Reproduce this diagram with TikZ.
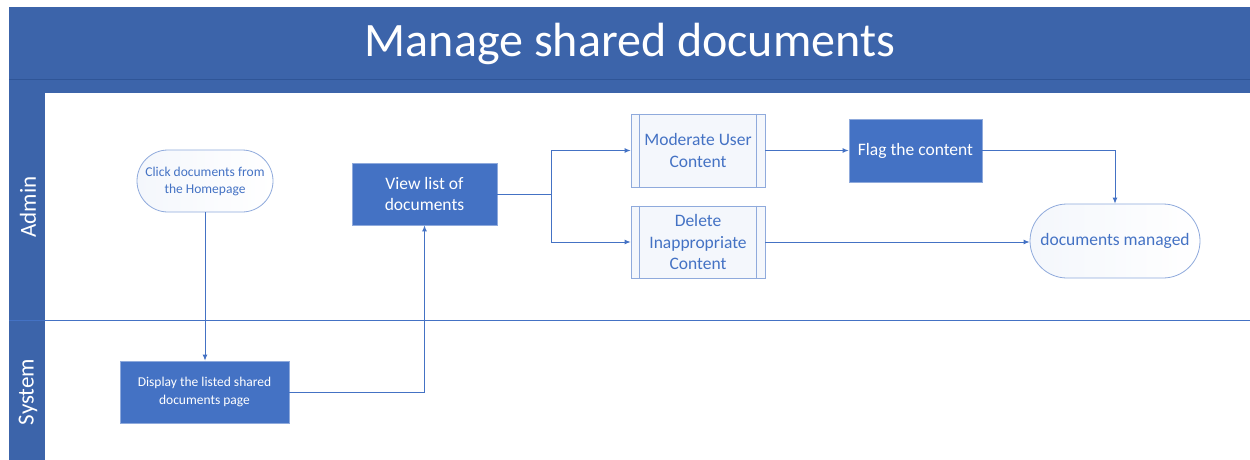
\documentclass[tikz,border=0pt]{standalone}
\usepackage{fontspec}
\setmainfont{Carlito}
\usetikzlibrary{arrows.meta}
\definecolor{hdr}{HTML}{3C64AA}
\definecolor{hdrline}{HTML}{2F5597}
\definecolor{nodefill}{HTML}{4472C4}
\definecolor{nodeedge}{HTML}{8FAADC}
\definecolor{lightfill}{HTML}{F4F7FC}
\definecolor{conn}{HTML}{4472C4}
\tikzset{
  filledbox/.style={draw=nodeedge, line width=0.8pt, fill=nodefill, text=white, align=center, inner sep=0pt},
  pill/.style={draw=nodeedge, line width=0.8pt, left color=lightfill, right color=white, text=nodefill, align=center, inner sep=0pt},
  subproc/.style={draw=nodeedge, line width=0.8pt, fill=lightfill, text=nodefill, align=center, inner sep=0pt},
  conn/.style={draw=conn, line width=0.9pt, -{Latex[length=6pt,width=5pt]}},
  lanelabel/.style={text=white, rotate=90, font=\fontsize{23}{27}\selectfont},
}
\begin{document}
\begin{tikzpicture}[x=1pt,y=-1pt]
\useasboundingbox (0,0) rectangle (1250,460);
\fill[white] (0,0) rectangle (1250,460);
% header
\fill[hdr] (9,7) rectangle (1250,93);
\draw[hdrline, line width=0.8pt] (9,79) -- (1250,79);
\node[text=white, font=\fontsize{48}{54}\selectfont] (title) at (630,44) {Manage shared documents};
% lane column
\fill[hdr] (9,93) rectangle (45,460);
\draw[conn, -] (9,320) -- (1250,320);
\node[lanelabel] (admin) at (28,207) {Admin};
\node[lanelabel] (system) at (28,392) {System};
% nodes
\node[pill, minimum width=136pt, minimum height=62pt, rounded corners=31pt, font=\fontsize{13.5}{17}\selectfont] (click) at (205,181) {Click documents from\\the Homepage};
\node[filledbox, minimum width=145pt, minimum height=62pt, font=\fontsize{17.5}{21}\selectfont] (view) at (424.5,194) {View list of\\documents};
\node[filledbox, minimum width=169pt, minimum height=62pt, font=\fontsize{13.5}{17.5}\selectfont] (disp) at (204.5,392) {Display the listed shared\\documents page};
\node[subproc, minimum width=134pt, minimum height=73pt, font=\fontsize{17.5}{21.5}\selectfont] (mod) at (698,150.5) {Moderate User\\Content};
\node[subproc, minimum width=134pt, minimum height=72pt, font=\fontsize{17.5}{21.5}\selectfont] (del) at (698,242) {Delete\\Inappropriate\\Content};
\node[filledbox, minimum width=133pt, minimum height=63pt, font=\fontsize{17.5}{21}\selectfont] (flag) at (915.5,150.5) {Flag the content};
\node[pill, minimum width=170pt, minimum height=74pt, rounded corners=37pt, font=\fontsize{17.5}{21}\selectfont] (done) at (1115,241) {documents managed};
% subprocess inner lines
\draw[nodeedge, line width=0.8pt] ([xshift=9pt]mod.north west) -- ([xshift=9pt]mod.south west);
\draw[nodeedge, line width=0.8pt] ([xshift=-9pt]mod.north east) -- ([xshift=-9pt]mod.south east);
\draw[nodeedge, line width=0.8pt] ([xshift=9pt]del.north west) -- ([xshift=9pt]del.south west);
\draw[nodeedge, line width=0.8pt] ([xshift=-9pt]del.north east) -- ([xshift=-9pt]del.south east);
% connectors
\draw[conn] (click.south) -- (click.south |- disp.north);
\draw[conn] (disp.east) -| (view.south);
\coordinate (split) at ([xshift=54pt]view.east);
\draw[conn, -] (view.east) -- (split);
\draw[conn] (split) |- (mod.west);
\draw[conn] (split) |- (del.west);
\draw[conn] (mod.east) -- (flag.west);
\draw[conn] (flag.east) -| (done.north);
\draw[conn] (del.east) -- (del.east -| done.west);
\end{tikzpicture}
\end{document}
